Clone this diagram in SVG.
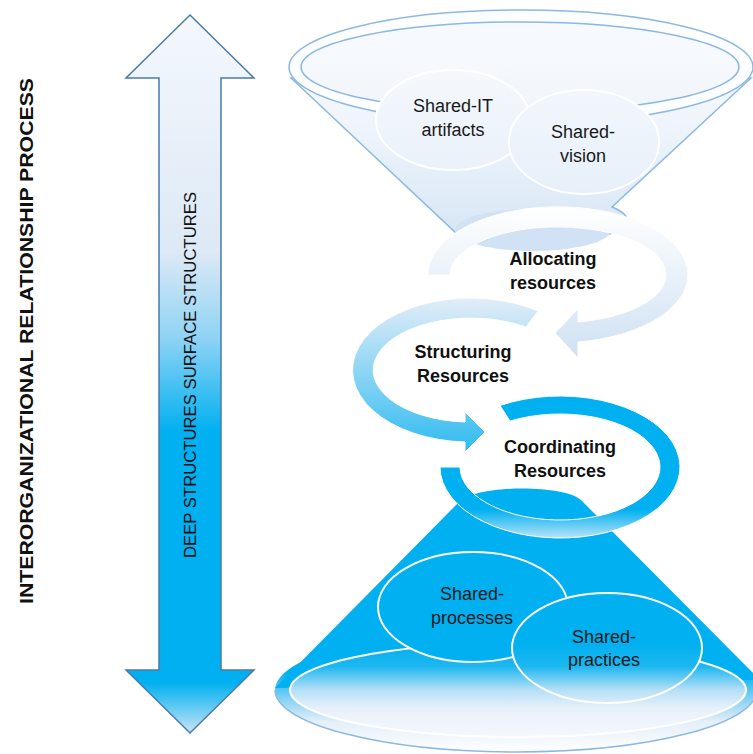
<svg xmlns="http://www.w3.org/2000/svg" width="753" height="754" viewBox="0 0 753 754">
<defs>
<linearGradient id="gArrow" gradientUnits="userSpaceOnUse" x1="0" y1="15" x2="0" y2="733">
<stop offset="0" stop-color="#f4f8fd"/>
<stop offset="0.33" stop-color="#dde9f6"/>
<stop offset="0.45" stop-color="#8fd3f4"/>
<stop offset="0.58" stop-color="#00b0f0"/>
<stop offset="0.93" stop-color="#00b0f0"/>
<stop offset="1" stop-color="#c9e4f6"/>
</linearGradient>
<linearGradient id="gFunnel" gradientUnits="userSpaceOnUse" x1="0" y1="10" x2="0" y2="252">
<stop offset="0" stop-color="#ffffff"/>
<stop offset="0.5" stop-color="#eef4fb"/>
<stop offset="1" stop-color="#d3e4f4"/>
</linearGradient>
<linearGradient id="gTopEl" gradientUnits="userSpaceOnUse" x1="0" y1="60" x2="0" y2="200">
<stop offset="0" stop-color="#f6f9fd"/>
<stop offset="1" stop-color="#e6eff9"/>
</linearGradient>
<linearGradient id="gAlloc" gradientUnits="userSpaceOnUse" x1="0" y1="207" x2="0" y2="357">
<stop offset="0" stop-color="#ffffff"/>
<stop offset="1" stop-color="#cfe1f3"/>
</linearGradient>
<linearGradient id="gStruct" gradientUnits="userSpaceOnUse" x1="0" y1="298" x2="0" y2="452">
<stop offset="0" stop-color="#e3edf8"/>
<stop offset="1" stop-color="#2fbbf0"/>
</linearGradient>
<linearGradient id="gCoord" gradientUnits="userSpaceOnUse" x1="0" y1="396" x2="0" y2="538">
<stop offset="0" stop-color="#00b0f0"/>
<stop offset="0.8" stop-color="#00b0f0"/>
<stop offset="1" stop-color="#b9e3f7"/>
</linearGradient>
<linearGradient id="gBase" gradientUnits="userSpaceOnUse" x1="0" y1="630" x2="0" y2="752">
<stop offset="0" stop-color="#00b0f0"/>
<stop offset="0.35" stop-color="#00b0f0"/>
<stop offset="0.55" stop-color="#7ecff3"/>
<stop offset="0.75" stop-color="#e3eff9"/>
<stop offset="1" stop-color="#ffffff"/>
</linearGradient>
<linearGradient id="gBaseIn" gradientUnits="userSpaceOnUse" x1="0" y1="643" x2="0" y2="737">
<stop offset="0" stop-color="#00b0f0"/>
<stop offset="0.25" stop-color="#1db7f0"/>
<stop offset="0.5" stop-color="#b5dff6"/>
<stop offset="0.7" stop-color="#e8f1fa"/>
<stop offset="1" stop-color="#f4f8fd"/>
</linearGradient>
<style>
.lbl{font-family:"Liberation Sans",Arial,sans-serif;font-size:18px;fill:#1a1a1a;text-anchor:middle}
.bold{font-family:"Liberation Sans",Arial,sans-serif;font-size:18px;font-weight:bold;fill:#111;text-anchor:middle}
.cap{font-family:"Liberation Sans",Arial,sans-serif;fill:#111;text-anchor:middle}
.wline{stroke:#ffffff;stroke-width:2}
.bline{stroke:#8db8e2;stroke-width:1.5}
</style>
</defs>
<rect width="753" height="754" fill="#ffffff"/>

<g id="side-title">
<text class="cap" transform="translate(33,341) rotate(-90)" font-size="19" font-weight="bold" textLength="526" lengthAdjust="spacingAndGlyphs">INTERORGANIZATIONAL RELATIONSHIP PROCESS</text>
</g>

<g id="double-arrow">
<path d="M190 15 L254 78 L221 78 L221 670 L254 670 L190 733 L126 670 L159 670 L159 78 L126 78 Z" fill="url(#gArrow)" stroke="#4a7ba7" stroke-width="1.5"/>
<text class="cap" transform="translate(196,375) rotate(-90)" font-size="16" textLength="366" lengthAdjust="spacingAndGlyphs">DEEP STRUCTURES SURFACE STRUCTURES</text>
</g>

<g id="top-funnel">
<path d="M291 78 L456 233 A78 20 0 0 0 612 207 L751 78 Z" fill="url(#gFunnel)" class="bline"/>
<ellipse cx="533" cy="230" rx="78" ry="21" fill="#d0e2f3"/>
<ellipse cx="521" cy="67" rx="232" ry="57" fill="#fbfdff" class="bline"/>
<ellipse cx="520" cy="67" rx="219" ry="45" fill="url(#gTopEl)" class="bline"/>
</g>

<g id="shared-it">
<ellipse cx="453" cy="120" rx="77" ry="50" fill="url(#gTopEl)" class="wline"/>
<text class="lbl" x="453" y="112">Shared-IT</text>
<text class="lbl" x="453" y="136">artifacts</text>
</g>

<g id="shared-vision">
<ellipse cx="584" cy="142" rx="75" ry="52" fill="url(#gTopEl)" class="wline"/>
<text class="lbl" x="583" y="138">Shared-</text>
<text class="lbl" x="583" y="162">vision</text>
</g>

<g id="bottom-cone">
<ellipse cx="516" cy="690" rx="241" ry="62" fill="url(#gBase)"/>
<path d="M457 504 C470 484 565 484 581 500 L760 680 L275 688 Z" fill="#00b0f0"/>
<path d="M275 690 A241 62 0 0 0 757 690" fill="none" stroke="#8db8e2" stroke-width="1.5"/>
<ellipse cx="518" cy="690" rx="228" ry="47" fill="url(#gBaseIn)" class="wline"/>
</g>

<g id="connectors">
<g id="allocating">
<path d="M428 275 A130 68 0 1 1 578 342 L578 358 L555 333 L578 309 L578 322 A108 48 0 1 0 450 275 Z" fill="url(#gAlloc)" stroke="#ffffff" stroke-width="1"/>
</g>
<g id="structuring">
<path d="M538 311 A118 72 0 1 0 465 442 L465 452 L485 432 L465 412 L465 422 A98 52 0 1 1 526 327 Z" fill="url(#gStruct)" stroke="#ffffff" stroke-width="1"/>
</g>
<g id="coordinating">
<path d="M500 405.5 A120 71 0 1 1 440 467 L460 467 A100 53 0 1 0 510 421.1 Z" fill="url(#gCoord)" stroke="#ffffff" stroke-width="1"/>
</g>
</g>

<g id="allocating-label">
<text class="bold" x="553" y="265">Allocating</text>
<text class="bold" x="553" y="289">resources</text>
</g>
<g id="structuring-label">
<text class="bold" x="463" y="358">Structuring</text>
<text class="bold" x="463" y="382">Resources</text>
</g>
<g id="coordinating-label">
<text class="bold" x="560" y="453">Coordinating</text>
<text class="bold" x="560" y="477">Resources</text>
</g>

<g id="shared-processes">
<ellipse cx="473" cy="607" rx="95" ry="55" fill="#00b0f0" class="wline"/>
<text class="lbl" x="472" y="600">Shared-</text>
<text class="lbl" x="472" y="624">processes</text>
</g>

<g id="shared-practices">
<ellipse cx="607" cy="648" rx="95" ry="55" fill="url(#gBaseIn)" class="wline"/>
<text class="lbl" x="604" y="643">Shared-</text>
<text class="lbl" x="604" y="666">practices</text>
</g>
</svg>
